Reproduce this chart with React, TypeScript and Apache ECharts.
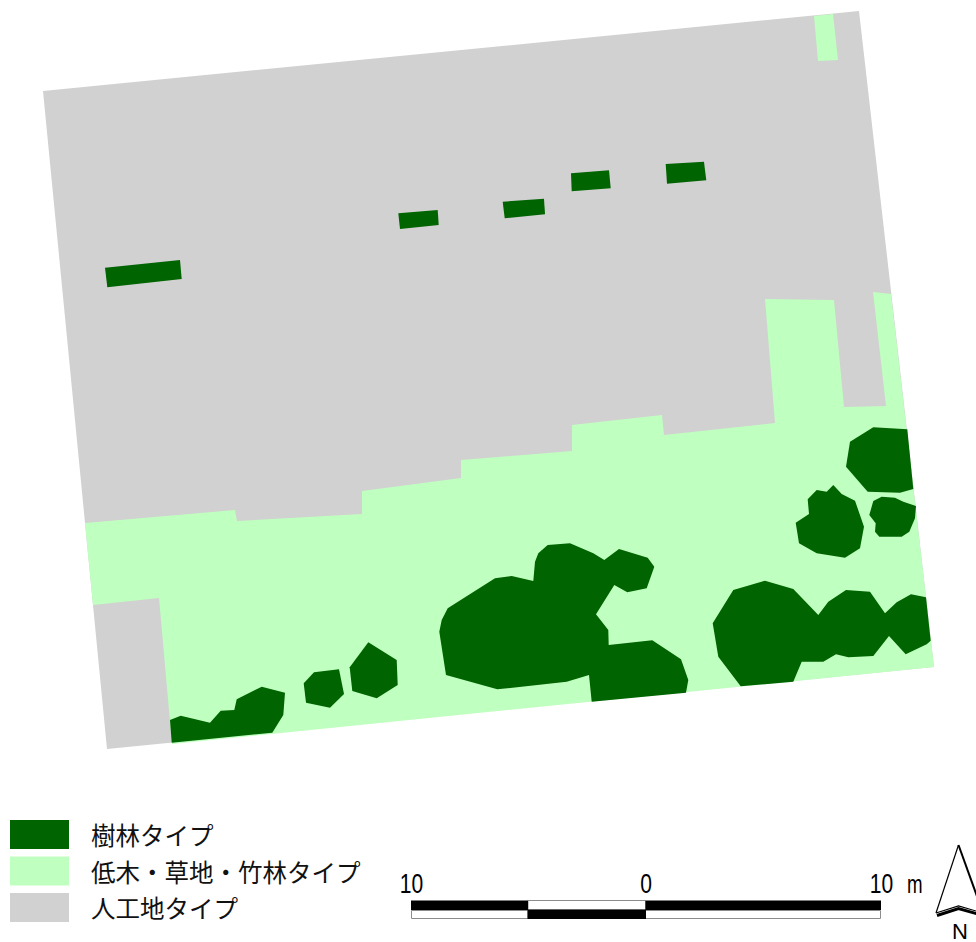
import React, { useEffect, useRef } from "react";
import * as echarts from "echarts";

type Pt = [number, number];

const legendNames = ["樹林タイプ", "低木・草地・竹林タイプ", "人工地タイプ"];
const colors = { forest: "#006400", shrub: "#BFFFBF", artificial: "#D1D1D1" };

const artificialPolygons: Pt[][] = [
  [[43, 91], [859, 11], [934, 667], [107, 749]],
];

const shrubPolygons: Pt[][] = [
  [[814, 16], [833, 14], [838, 60], [818, 61]],
  [
    [85, 523], [235, 510], [237, 521], [362, 514], [362, 491], [461, 478], [461, 460],
    [572, 451], [572, 425], [662, 415], [664, 435], [775, 423], [765, 299], [834, 300],
    [844, 407], [886, 406], [873, 292], [891, 294], [934, 667], [172, 744], [159, 598],
    [93, 605],
  ],
];

const forestPolygons: Pt[][] = [
  [[105, 267.7], [180, 260], [181.7, 279], [107.3, 287.3]],
  [[398.3, 213.3], [437.7, 210], [438.7, 225], [400, 229]],
  [[502.7, 201.7], [544, 198.7], [545, 214.3], [504.7, 218.3]],
  [[571, 173.3], [609, 170.3], [610.7, 188.3], [571.7, 191.3]],
  [[665.7, 164], [704, 161.7], [706.3, 180.3], [667, 183.7]],
  [
    [439.3, 631.7], [441.7, 620], [447.7, 608.3], [495, 578.3], [511.7, 576], [533.3, 581],
    [535, 561.7], [538.3, 553.3], [547.7, 545], [570, 543.3], [593.3, 553.3], [604.3, 560],
    [619, 549], [647.7, 557.7], [654.3, 566.7], [646.7, 588.3], [627.3, 592.3], [614.3, 585],
    [596, 614.3], [608.3, 630], [608.7, 645], [652.3, 640.3], [681, 659.3], [688.3, 680],
    [686, 692.7], [591.7, 701.7], [589, 675], [566.7, 681.7], [497.3, 689.3], [446, 675],
  ],
  [
    [850, 441.7], [873.3, 427.3], [907.3, 429.3], [913.3, 489], [900, 492.7], [867.7, 491.7],
    [846, 466.7],
  ],
  [
    [795.7, 522.7], [809, 514], [807.7, 499.3], [816.7, 490], [826.7, 491.7], [833.3, 485],
    [841.7, 494], [855, 500.7], [864, 526.7], [860, 548.3], [845, 557.7], [816.7, 553.3],
    [799, 543.3],
  ],
  [
    [869.3, 515], [873.3, 501], [881.7, 496.7], [895, 497.7], [903.3, 501.7], [916, 506],
    [915, 518.3], [909.3, 531.7], [901.7, 536.7], [879.3, 536.7], [875, 531.7], [875.7, 523.3],
  ],
  [
    [712.7, 623.3], [733.3, 590], [765, 580.7], [793.3, 589], [818.3, 615], [828.3, 601.7],
    [846, 590], [870, 591.7], [885, 613.3], [896.7, 602.3], [911, 594.3], [926, 597.3],
    [930.7, 640.7], [926.7, 644.3], [905.7, 654.3], [889, 636], [873.3, 656], [848.3, 657.3],
    [836, 654.3], [823.3, 661.7], [801.7, 661.7], [793.3, 681.7], [740.7, 686.3], [718.3, 656.7],
  ],
  [
    [170, 720], [180.7, 715.7], [210, 722.7], [220.7, 710.7], [234.3, 710], [236.7, 699.3],
    [261.7, 686.7], [285, 692.7], [283.3, 715], [272.3, 732.7], [171.7, 742.7],
  ],
  [[303.7, 683.3], [314, 672.3], [339, 669.3], [344, 694], [330, 707.7], [306, 702.7]],
  [[349.7, 667.3], [368.3, 642.3], [396.7, 660], [397.7, 685], [376.7, 698.3], [352.3, 691]],
];

const scaleLabels = ["10", "0", "10"];
const scaleUnit = "m";
const northLabel = "N";

function polygonSeries(name: string, color: string, polygons: Pt[][]) {
  return {
    type: "custom",
    name,
    coordinateSystem: "cartesian2d",
    clip: false,
    silent: true,
    itemStyle: { color },
    data: polygons.map((_, i) => [i]),
    encode: { x: 0, y: 0 },
    renderItem: (params: any, api: any) => ({
      type: "polygon",
      shape: { points: polygons[params.dataIndex].map((p) => api.coord(p)) },
      style: { fill: color, stroke: "none" },
    }),
  };
}

const black = "#000";
const outline = "#8c8c8c";
const digitFont = { fontFamily: "Liberation Sans", fontSize: 27, fill: "#000", verticalAlign: "middle" };

function scaleBarGraphics() {
  const rect = (x: number, y: number, w: number, h: number, fill: string, stroke: string) => ({
    type: "rect",
    silent: true,
    shape: { x, y, width: w, height: h },
    style: { fill, stroke, lineWidth: 1 },
  });
  const digit = (text: string, x: number) => ({
    type: "text",
    silent: true,
    x,
    y: 883.5,
    scaleX: 0.78,
    style: { ...digitFont, text, align: "center" },
  });
  return [
    rect(411.5, 910.5, 116.5, 8, "#fff", outline),
    rect(645.5, 910.5, 235, 8, "#fff", outline),
    rect(528, 900.5, 117.5, 9.5, "#fff", outline),
    rect(411, 900.5, 117, 9.5, black, "none"),
    rect(645.5, 900.5, 235.5, 9.5, black, "none"),
    rect(527.5, 909.5, 118.5, 9.5, black, "none"),
    digit(scaleLabels[0], 411.5),
    digit(scaleLabels[1], 646),
    digit(scaleLabels[2], 881.5),
    {
      type: "text",
      silent: true,
      x: 907,
      y: 884,
      scaleX: 0.72,
      style: { fontFamily: "Liberation Sans", fontSize: 26, fill: "#000", verticalAlign: "middle", text: scaleUnit, align: "left" },
    },
  ];
}

function northArrowGraphics() {
  const line = (points: number[][], lineWidth: number) => ({
    type: "polyline",
    silent: true,
    shape: { points },
    style: { stroke: "#000", fill: "none", lineWidth },
  });
  return [
    line([[936, 913], [958.5, 845]], 1.2),
    line([[958.5, 845], [983, 913]], 2),
    line([[936, 913], [958.5, 906], [983, 913]], 1.2),
    line([[937, 915.5], [958.5, 908.5], [983, 915.5]], 3),
    {
      type: "text",
      silent: true,
      x: 960,
      y: 931,
      style: { fontFamily: "Liberation Sans", fontSize: 22, fill: "#000", verticalAlign: "middle", align: "center", text: northLabel },
    },
  ];
}

export default function App() {
  const ref = useRef<HTMLDivElement>(null);
  useEffect(() => {
    const chart = echarts.init(ref.current!, undefined, { renderer: "svg" });
    chart.setOption({
      animation: false,
      backgroundColor: "#fff",
      grid: { left: 0, right: 0, top: 0, bottom: 0 },
      xAxis: { type: "value", min: 0, max: 976, show: false },
      yAxis: { type: "value", min: 0, max: 942, inverse: true, show: false },
      legend: {
        orient: "vertical",
        left: 10,
        top: 820,
        padding: 0,
        itemWidth: 59,
        itemHeight: 29,
        itemGap: 7.5,
        icon: "rect",
        selectedMode: false,
        data: legendNames,
        itemStyle: { borderWidth: 0 },
        textStyle: {
          fontFamily: "Noto Sans CJK JP",
          fontSize: 24.5,
          color: "#111",
          padding: [0, 0, 0, 17],
        },
      },
      graphic: { elements: [...scaleBarGraphics(), ...northArrowGraphics()] },
      series: [
        polygonSeries(legendNames[2], colors.artificial, artificialPolygons),
        polygonSeries(legendNames[1], colors.shrub, shrubPolygons),
        polygonSeries(legendNames[0], colors.forest, forestPolygons),
      ],
    });
    return () => chart.dispose();
  }, []);
  return <div ref={ref} style={{ position: "absolute", left: 0, top: 0, width: 976, height: 942 }} />;
}
